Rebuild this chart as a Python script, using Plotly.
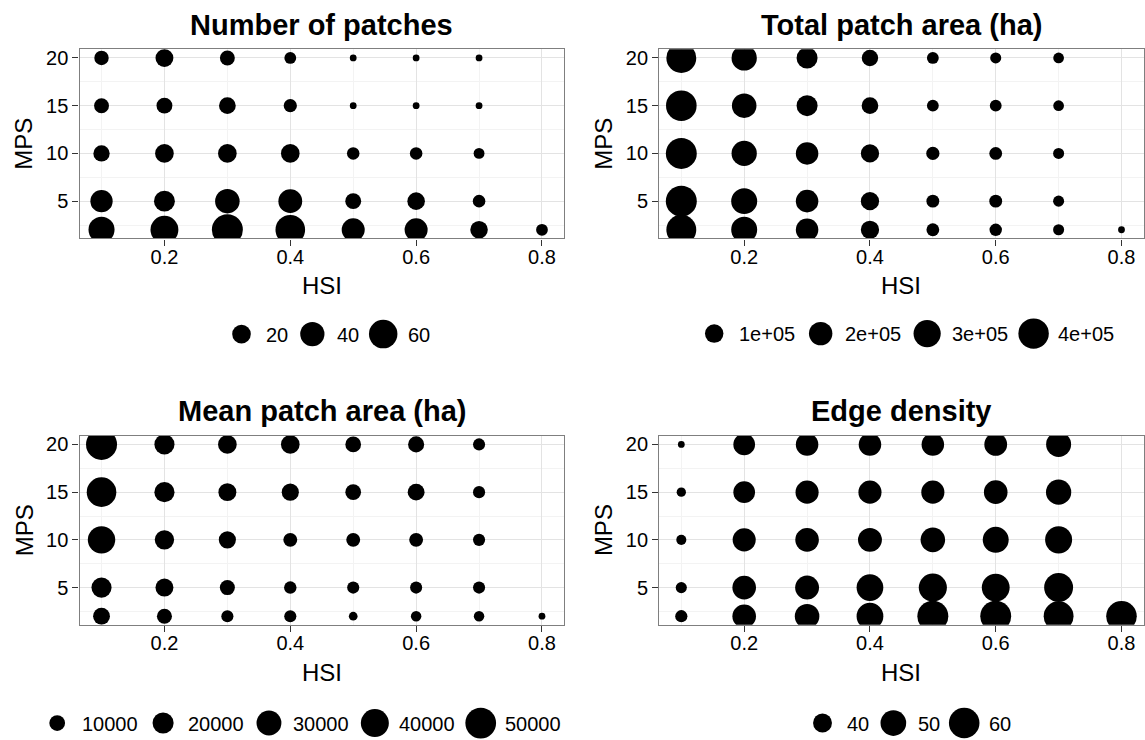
import math
import plotly.graph_objects as go

# ---------------- data ----------------
hsi = [0.1, 0.2, 0.3, 0.4, 0.5, 0.6, 0.7, 0.8]
mps = [2, 5, 10, 15, 20]

# rows follow mps (2, 5, 10, 15, 20); columns follow hsi (0.8 only at MPS 2)
number_of_patches = [
    [48, 57, 74, 66, 35, 35, 17, 6],
    [32, 27, 41, 38, 13, 17, 7],
    [14, 20, 20, 20, 7, 7, 5],
    [11, 13, 15, 8, 3, 3, 3],
    [10, 18, 11, 6, 3, 3, 3],
]
total_patch_area = [
    [383000, 265000, 179000, 97000, 29100, 25800, 16100, 3300],
    [420000, 265000, 179000, 97000, 29100, 29100, 16100],
    [418000, 246000, 179000, 97000, 32600, 29100, 16100],
    [406000, 228000, 147000, 73000, 21300, 21300, 14400],
    [383000, 246000, 147000, 69000, 21300, 16100, 14400],
]
mean_patch_area = [
    [11700, 9000, 5800, 5800, 3800, 4600, 4600, 3500],
    [17900, 13600, 9000, 6100, 5800, 5800, 5800],
    [38100, 16300, 12200, 7600, 7600, 7600, 5800],
    [45700, 17900, 13600, 12200, 9900, 11700, 5800],
    [51000, 17900, 14900, 14900, 9900, 10500, 5800],
]
edge_density = [
    [34.4, 46.5, 48.1, 52.0, 61.0, 60.8, 58.5, 60.1],
    [33.9, 46.5, 47.0, 52.0, 54.8, 54.2, 56.4],
    [33.5, 45.7, 46.5, 47.0, 48.1, 50.6, 52.6],
    [33.3, 43.6, 45.7, 45.7, 45.7, 46.5, 49.3],
    [33.0, 43.6, 44.8, 44.8, 44.8, 45.2, 48.8],
]

titles = ["Number of patches", "Total patch area (ha)",
          "Mean patch area (ha)", "Edge density"]
x_title = "HSI"
y_title = "MPS"

x_ticks = [0.2, 0.4, 0.6, 0.8]
x_tick_labels = ["0.2", "0.4", "0.6", "0.8"]
y_ticks = [5, 10, 15, 20]
y_tick_labels = ["5", "10", "15", "20"]
x_minor = [0.1, 0.3, 0.5, 0.7]
y_minor = [2.5, 7.5, 12.5, 17.5]

legend_breaks_patches = [20, 40, 60]
legend_labels_patches = ["20", "40", "60"]
legend_breaks_total = [100000, 200000, 300000, 400000]
legend_labels_total = ["1e+05", "2e+05", "3e+05", "4e+05"]
legend_breaks_mean = [10000, 20000, 30000, 40000, 50000]
legend_labels_mean = ["10000", "20000", "30000", "40000", "50000"]
legend_breaks_edge = [40, 50, 60]
legend_labels_edge = ["40", "50", "60"]

# ---------------- layout / style ----------------
W, H = 1145, 740
FONT = "Liberation Sans, Arial, Helvetica, sans-serif"
D_MIN, D_MAX = 6.8, 31.0          # bubble diameter range (px)

# panel boxes in pixels: (left, right, top, bottom)
PANELS = [(79.5, 564.0, 47.5, 237.0), (659.3, 1143.5, 47.5, 237.0),
          (79.5, 564.0, 435.0, 624.5), (659.3, 1143.5, 435.0, 624.5)]
LEG_X0 = [241.5, 714.2, 57.2, 822.5]     # first legend key centre
LEG_Y = [333.0, 332.5, 723.0, 723.0]
KEY_TO_TEXT, TEXT_TO_KEY = 23.5, 24.0

TITLE_SIZE, AXT_SIZE, TICK_SIZE, LEG_SIZE = 29, 24, 20, 20
BORDER = "#7f7f7f"
GRID_MAJOR = "#e3e3e3"
GRID_MINOR = "#f3f3f3"

ARIAL_W = {c: 0.556 for c in "0123456789e"}
ARIAL_W.update({"+": 0.584, ".": 0.278})


def text_width(s, size):
    return sum(ARIAL_W.get(c, 0.556) for c in s) * size * 1.05


def expand(lo, hi, f=0.05):
    s = hi - lo
    return [lo - f * s, hi + f * s]


def px_x(p):
    return p / W


def px_y(p):
    return 1 - p / H


panel_data = [number_of_patches, total_patch_area, mean_patch_area, edge_density]
legend_breaks = [legend_breaks_patches, legend_breaks_total, legend_breaks_mean, legend_breaks_edge]
legend_labels = [legend_labels_patches, legend_labels_total, legend_labels_mean, legend_labels_edge]

fig = go.Figure()
annotations = []

xr = expand(min(hsi), max(hsi))
yr = expand(min(mps), max(mps))

for k, data in enumerate(panel_data):
    flat = [v for row in data for v in row]
    vmin, vmax = min(flat), max(flat)

    def diam(v, vmin=vmin, vmax=vmax):
        t = (v - vmin) / (vmax - vmin)
        t = max(t, 0.0)
        return D_MIN + (D_MAX - D_MIN) * math.sqrt(t)

    xs, ys, ss = [], [], []
    for i, m in enumerate(mps):
        for j, v in enumerate(data[i]):
            xs.append(hsi[j])
            ys.append(m)
            ss.append(diam(v))

    sfx = "" if k == 0 else str(k + 1)
    fig.add_trace(go.Scatter(
        x=xs, y=ys, mode="markers",
        marker=dict(size=ss, sizemode="diameter", color="black", opacity=1,
                    line=dict(width=0)),
        xaxis="x" + sfx, yaxis="y" + sfx, hoverinfo="skip", showlegend=False,
    ))

    l, r, t, b = PANELS[k]
    common = dict(
        ticks="outside", ticklen=6, tickwidth=1.3, tickcolor="#333333",
        showline=True, linecolor=BORDER, linewidth=1.4, mirror=True,
        showgrid=True, gridcolor=GRID_MAJOR, gridwidth=1.1, zeroline=False,
        tickfont=dict(family=FONT, size=TICK_SIZE, color="black"),
        fixedrange=True,
    )
    fig.update_layout(**{
        "xaxis" + sfx: dict(
            domain=[px_x(l), px_x(r)], range=xr, anchor="y" + sfx,
            tickmode="array", tickvals=x_ticks, ticktext=x_tick_labels,
            ticklabelstandoff=-6,
            minor=dict(tickmode="array", tickvals=x_minor, showgrid=True,
                       gridcolor=GRID_MINOR, gridwidth=1, ticks=""),
            **common),
        "yaxis" + sfx: dict(
            domain=[px_y(b), px_y(t)], range=yr, anchor="x" + sfx,
            tickmode="array", tickvals=y_ticks, ticktext=y_tick_labels,
            minor=dict(tickmode="array", tickvals=y_minor, showgrid=True,
                       gridcolor=GRID_MINOR, gridwidth=1, ticks=""),
            **common),
    })

    cx = (l + r) / 2
    # panel title
    annotations.append(dict(
        text="<b>" + titles[k] + "</b>", x=px_x(cx), y=px_y(t - 24.5),
        xref="paper", yref="paper", xanchor="center", yanchor="middle",
        showarrow=False, font=dict(family=FONT, size=TITLE_SIZE, color="black")))
    # axis titles
    annotations.append(dict(
        text=x_title, x=px_x(cx), y=px_y(b + 47.5),
        xref="paper", yref="paper", xanchor="center", yanchor="middle",
        showarrow=False, font=dict(family=FONT, size=AXT_SIZE, color="black")))
    annotations.append(dict(
        text=y_title, x=px_x(l - 55.5), y=px_y((t + b) / 2), textangle=-90,
        xref="paper", yref="paper", xanchor="center", yanchor="middle",
        showarrow=False, font=dict(family=FONT, size=AXT_SIZE, color="black")))

    # legend (keys drawn on a full-page pixel overlay axis)
    cxk = LEG_X0[k]
    kx, ky, ks = [], [], []
    for br, lab in zip(legend_breaks[k], legend_labels[k]):
        kx.append(cxk)
        ky.append(LEG_Y[k])
        ks.append(diam(br))
        tx = cxk + KEY_TO_TEXT
        annotations.append(dict(
            text=lab, x=px_x(tx), y=px_y(LEG_Y[k] + 0.5),
            xref="paper", yref="paper", xanchor="left", yanchor="middle",
            showarrow=False, borderpad=0,
            font=dict(family=FONT, size=LEG_SIZE, color="black")))
        cxk = tx + text_width(lab, LEG_SIZE) + TEXT_TO_KEY
    fig.add_trace(go.Scatter(
        x=kx, y=ky, mode="markers",
        marker=dict(size=ks, sizemode="diameter", color="black", opacity=1,
                    line=dict(width=0)),
        xaxis="x5", yaxis="y5", hoverinfo="skip", showlegend=False, cliponaxis=False,
    ))

fig.update_layout(
    xaxis5=dict(domain=[0, 1], range=[0, W], visible=False, fixedrange=True, anchor="y5"),
    yaxis5=dict(domain=[0, 1], range=[H, 0], visible=False, fixedrange=True, anchor="x5"),
)

fig.update_layout(
    width=W, height=H, autosize=False,
    margin=dict(l=0, r=0, t=0, b=0, pad=0),
    paper_bgcolor="white", plot_bgcolor="rgba(0,0,0,0)",
    showlegend=False, annotations=annotations,
    font=dict(family=FONT, color="black"),
)

fig.write_html("out.html", config={"displayModeBar": False},
               post_script="document.body.style.margin='0px';")
